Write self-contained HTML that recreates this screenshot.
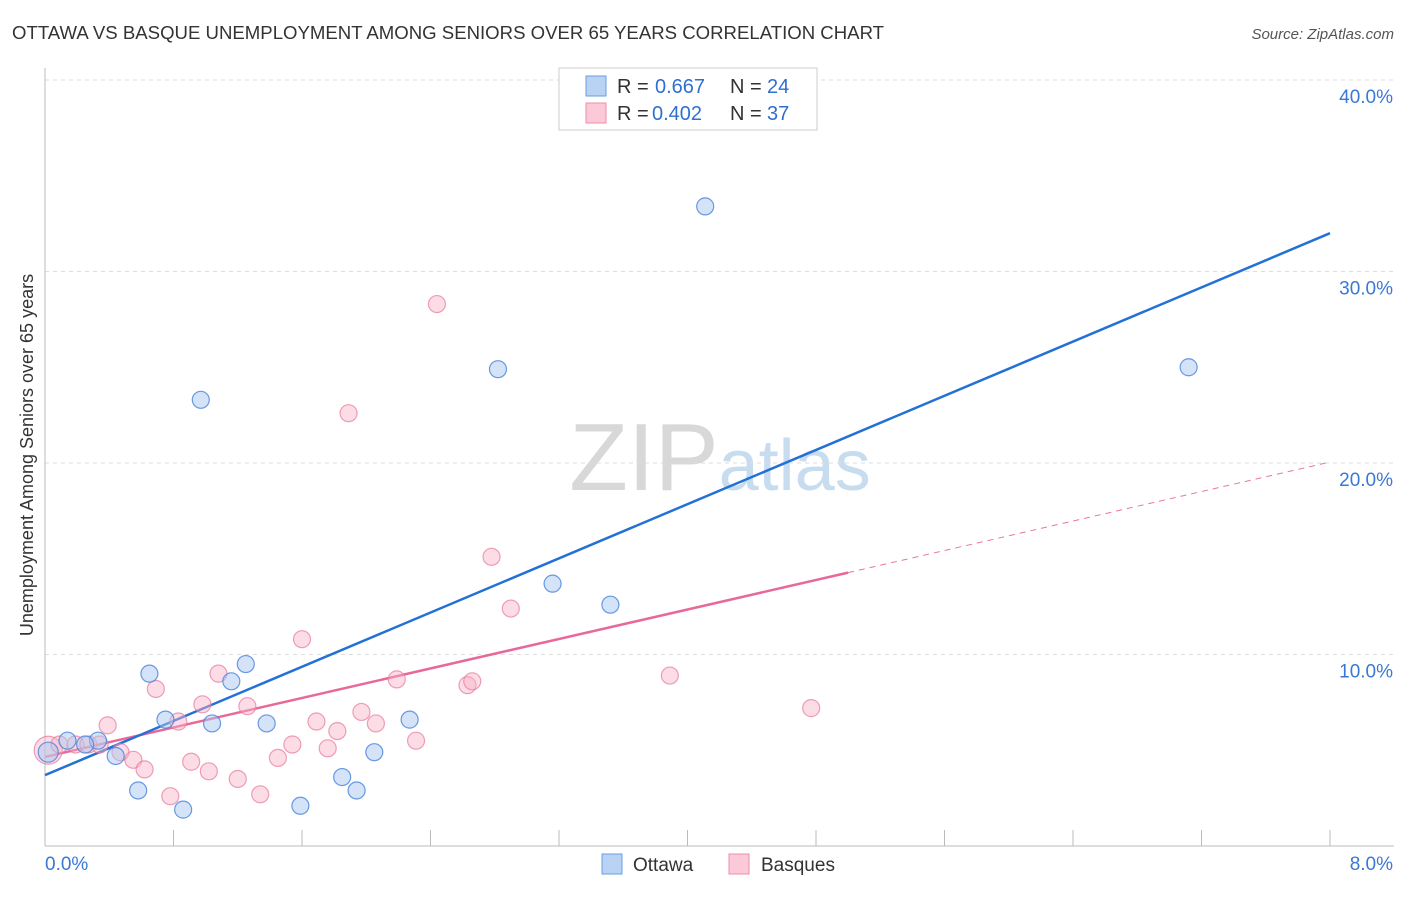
<!DOCTYPE html>
<html><head><meta charset="utf-8"><style>
body{margin:0;background:#fff;font-family:"Liberation Sans",sans-serif}
svg text{font-family:"Liberation Sans",sans-serif}
</style></head><body>
<svg id="c" width="1406" height="892">
<text x="12" y="39" font-size="18.6" fill="#333">OTTAWA VS BASQUE UNEMPLOYMENT AMONG SENIORS OVER 65 YEARS CORRELATION CHART</text>
<text x="1394" y="39" font-size="15" fill="#555" text-anchor="end" font-style="italic">Source: ZipAtlas.com</text>
<text x="720" y="490" font-size="96" fill="#ddd" text-anchor="middle" font-family="Liberation Serif"><tspan fill="#d8d8d8">ZIP</tspan><tspan fill="#c8dcf0" font-family="Liberation Sans" font-size="72">atlas</tspan></text>
<text transform="translate(33,455) rotate(-90)" font-size="18" fill="#333" text-anchor="middle">Unemployment Among Seniors over 65 years</text>
<g id="grid"></g><g id="lines"></g><g id="pts"></g>
<g>
<rect x="559" y="68" width="258" height="62" fill="#fff" stroke="#ccc"/>
<rect x="586" y="76" width="20" height="20" fill="#b9d3f5" stroke="#6a9ee0"/>
<rect x="586" y="103" width="20" height="20" fill="#fbc9d8" stroke="#eb8fad"/>
<text x="617" y="93" font-size="20" fill="#333">R =</text>
<text x="655" y="93" font-size="20" fill="#2f6fd0">0.667</text>
<text x="730" y="93" font-size="20" fill="#333">N =</text>
<text x="767" y="93" font-size="20" fill="#2f6fd0">24</text>
<text x="617" y="120" font-size="20" fill="#333">R =</text>
<text x="652" y="120" font-size="20" fill="#2f6fd0">0.402</text>
<text x="730" y="120" font-size="20" fill="#333">N =</text>
<text x="767" y="120" font-size="20" fill="#2f6fd0">37</text>
</g>
<g>
<rect x="602" y="854" width="20" height="20" fill="#b9d3f5" stroke="#6a9ee0"/>
<text x="633" y="871" font-size="19" fill="#333">Ottawa</text>
<rect x="729" y="854" width="20" height="20" fill="#fbc9d8" stroke="#eb8fad"/>
<text x="761" y="871" font-size="19" fill="#333">Basques</text>
</g>
</svg>
<script>
const yTicks=[10,20,30,40];
const yTickLabels=["10.0%","20.0%","30.0%","40.0%"];
const xTickLabels=["0.0%","8.0%"];
const ottawaX=[0.02,0.14,0.33,0.44,0.58,0.65,0.75,0.86,0.97,1.04,1.16,1.25,1.38,1.59,1.85,1.94,2.05,2.27,2.82,3.16,3.52,4.11,7.12,0.25];
const ottawaY=[4.9,5.5,5.5,4.7,2.9,9.0,6.6,1.9,23.3,6.4,8.6,9.5,6.4,2.1,3.6,2.9,4.9,6.6,24.9,13.7,12.6,33.4,25.0,5.3];
const basqueX=[0.02,0.09,0.19,0.27,0.39,0.47,0.55,0.62,0.69,0.78,0.83,0.91,0.98,1.02,1.08,1.20,1.26,1.34,1.45,1.54,1.60,1.69,1.76,1.82,1.89,1.97,2.06,2.19,2.31,2.44,2.63,2.66,2.78,2.90,3.89,4.77,0.34];
const basqueY=[5.0,5.3,5.3,5.3,6.3,4.9,4.5,4.0,8.2,2.6,6.5,4.4,7.4,3.9,9.0,3.5,7.3,2.7,4.6,5.3,10.8,6.5,5.1,6.0,22.6,7.0,6.4,8.7,5.5,28.3,8.4,8.6,15.1,12.4,8.9,7.2,5.3];
const ottawaLine=[3.7,32.0];
const basqueLine=[4.65,20.05];
const basqueSolidEnd=5.0;
const X0=45,X1=1330,Y0=846,PPY=19.15;
const sx=v=>X0+(X1-X0)*v/8, sy=v=>Y0-v*PPY;
const NS="http://www.w3.org/2000/svg";
function mk(t,a,p){const e=document.createElementNS(NS,t);for(const k in a)e.setAttribute(k,a[k]);document.getElementById(p).appendChild(e);return e;}
let e;
yTicks.forEach((t,i)=>{
e=mk('line',{x1:45,x2:1394,y1:sy(t),y2:sy(t),stroke:'#ddd','stroke-dasharray':'4,4'},'grid');


e=mk('text',{x:1393,y:sy(t)+23,'font-size':19,fill:'#3b78d6','text-anchor':'end'},'grid');e.textContent=yTickLabels[i];


});
e=mk('line',{x1:45,x2:1394,y1:80,y2:80,stroke:'#ddd','stroke-dasharray':'4,4'},'grid');


e=mk('line',{x1:45,x2:45,y1:68,y2:846,stroke:'#bbb'},'grid');


e=mk('line',{x1:45,x2:1394,y1:846,y2:846,stroke:'#bbb'},'grid');


for(let i=1;i<=10;i++){e=mk('line',{x1:sx(i*0.8),x2:sx(i*0.8),y1:830,y2:846,stroke:'#bbb'},'grid');

}
e=mk('text',{x:45,y:870,'font-size':19,fill:'#3b78d6'},'grid');e.textContent=xTickLabels[0];


e=mk('text',{x:1393,y:870,'font-size':19,fill:'#3b78d6','text-anchor':'end'},'grid');e.textContent=xTickLabels[1];


basqueX.forEach((x,i)=>{e=mk('circle',{cx:sx(x),cy:sy(basqueY[i]),r:i==0?14:8.5,fill:'rgba(248,180,200,0.45)',stroke:'rgba(232,120,155,0.7)','stroke-width':1.2},'pts');

});
ottawaX.forEach((x,i)=>{e=mk('circle',{cx:sx(x),cy:sy(ottawaY[i]),r:i==0?10:8.5,fill:'rgba(170,200,240,0.5)',stroke:'rgba(70,130,220,0.8)','stroke-width':1.2},'pts');

});
const bl=x=>basqueLine[0]+(basqueLine[1]-basqueLine[0])*x/8;
e=mk('line',{x1:sx(basqueSolidEnd),y1:sy(bl(basqueSolidEnd)),x2:sx(8),y2:sy(basqueLine[1]),stroke:'#e8789b','stroke-width':1,'stroke-dasharray':'6,5'},'lines');


e=mk('line',{x1:sx(0),y1:sy(basqueLine[0]),x2:sx(basqueSolidEnd),y2:sy(bl(basqueSolidEnd)),stroke:'#e8689a','stroke-width':2.5},'lines');


e=mk('line',{x1:sx(0),y1:sy(ottawaLine[0]),x2:sx(8),y2:sy(ottawaLine[1]),stroke:'#2370d6','stroke-width':2.5},'lines');


</script>
</body></html>
